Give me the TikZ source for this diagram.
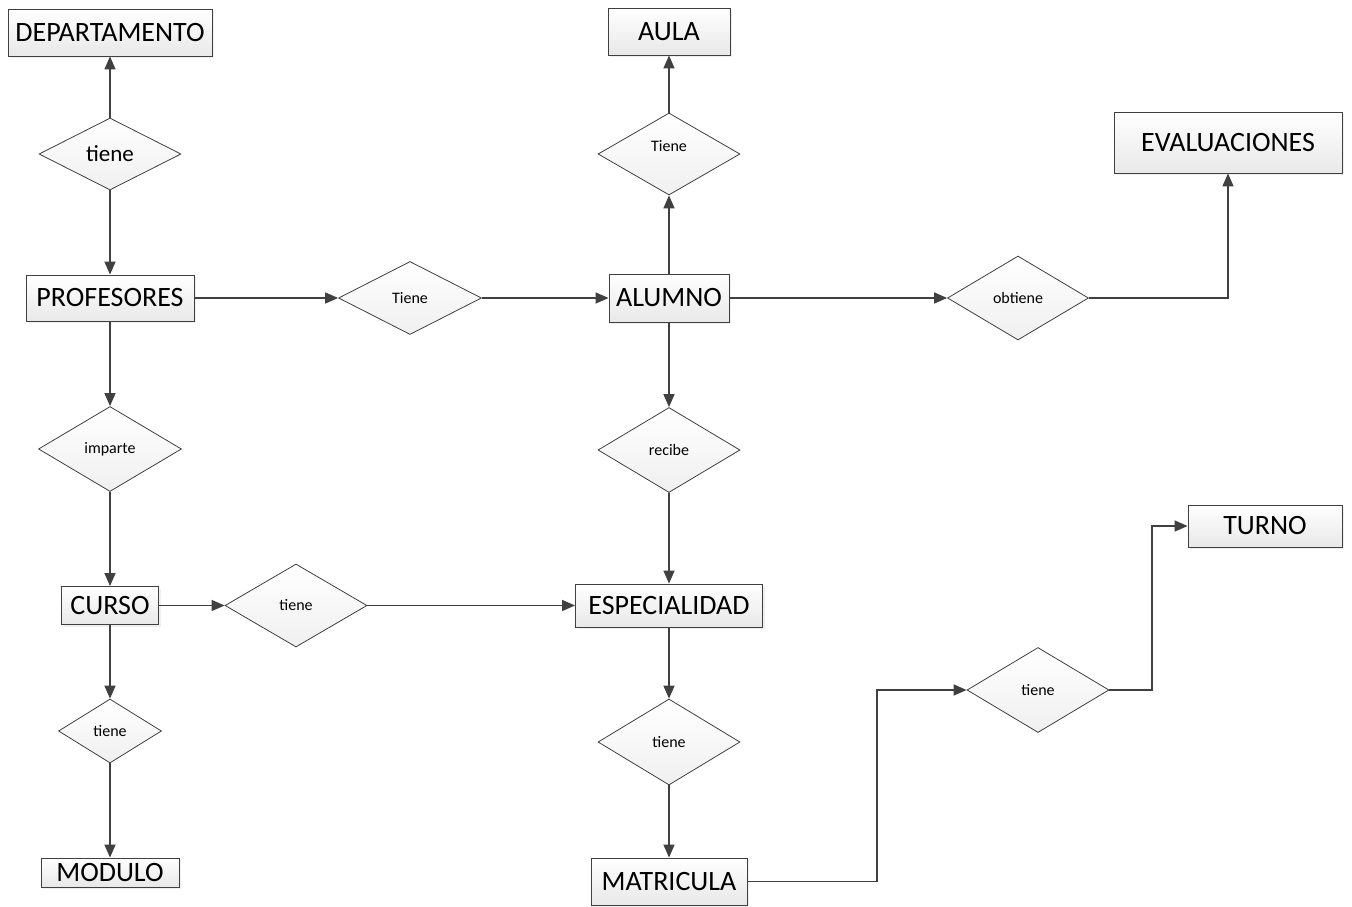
\documentclass[tikz,border=0pt]{standalone}
\usepackage{fontspec}
\setmainfont{Carlito}
\usetikzlibrary{shapes.geometric,arrows.meta,shadows}
\definecolor{ln}{HTML}{404040}
\tikzset{
  ent/.style={draw=ln, line width=0.9pt, top color=white, bottom color=black!9,
    drop shadow={shadow xshift=2pt, shadow yshift=-2pt, fill=black!12},
    inner sep=0pt, font=\fontsize{28}{32}\selectfont, text=black},
  rel/.style={diamond, draw=ln, line width=0.8pt, top color=white, bottom color=black!6,
    inner sep=0pt, font=\fontsize{16}{19}\selectfont, text=black},
  conn/.style={draw=ln, line width=1.5pt},
  arr/.style={conn, -{Triangle[length=13pt,width=11pt]}},
}
\begin{document}
\begin{tikzpicture}[x=1pt,y=-1pt]
\useasboundingbox[fill=white] (0,0) rectangle (1352,907);
% entities
\node[ent, minimum width=204, minimum height=47] (dep) at (110,32.5) {DEPARTAMENTO};
\node[ent, minimum width=122, minimum height=47] (aula) at (669,31.5) {AULA};
\node[ent, minimum width=228, minimum height=61] (eval) at (1228,142.5) {EVALUACIONES};
\node[ent, minimum width=168, minimum height=46] (prof) at (110,298) {PROFESORES};
\node[ent, minimum width=120, minimum height=48] (alum) at (669,298) {ALUMNO};
\node[ent, minimum width=97, minimum height=38] (curso) at (110,605.5) {CURSO};
\node[ent, minimum width=187, minimum height=43] (esp) at (669,605.5) {ESPECIALIDAD};
\node[ent, minimum width=138, minimum height=29] (mod) at (110,872.5) {MODULO};
\node[ent, minimum width=156, minimum height=47] (mat) at (669,881.5) {MATRICULA};
\node[ent, minimum width=154, minimum height=42] (turno) at (1265,526) {TURNO};
% relationships
\node[rel, minimum width=142, minimum height=72, font=\fontsize{23}{27}\selectfont] (d1) at (110,154) {tiene};
\node[rel, minimum width=142, minimum height=82] (d2) at (669,154) {};
\node[font=\fontsize{16}{19}\selectfont] (d2l) at ([yshift=8pt]d2.center) {Tiene};
\node[rel, minimum width=143, minimum height=73] (d3) at (410,298) {Tiene};
\node[rel, minimum width=141, minimum height=84] (d4) at (1018,298) {obtiene};
\node[rel, minimum width=143, minimum height=85] (d5) at (110,449) {imparte};
\node[rel, minimum width=142, minimum height=85] (d6) at (669,450) {recibe};
\node[rel, minimum width=142, minimum height=83] (d7) at (296,605.5) {tiene};
\node[rel, minimum width=103, minimum height=64] (d8) at (110,731) {tiene};
\node[rel, minimum width=142, minimum height=86] (d9) at (669,742) {tiene};
\node[rel, minimum width=142, minimum height=85] (d10) at (1038,690) {tiene};
\coordinate (c1) at (877,0);
\coordinate (c2) at (1152,0);
% connectors
\draw[arr] (d1.north) -- (dep.south);
\draw[arr] (d1.south) -- (prof.north);
\draw[arr] (prof.east) -- (d3.west);
\draw[arr] (d3.east) -- (alum.west);
\draw[arr] (alum.north) -- (d2.south);
\draw[arr] (d2.north) -- (aula.south);
\draw[arr] (alum.east) -- (d4.west);
\draw[arr] (d4.east) -| (eval.south);
\draw[arr] (alum.south) -- (d6.north);
\draw[arr] (d6.south) -- (esp.north);
\draw[arr] (prof.south) -- (d5.north);
\draw[arr] (d5.south) -- (curso.north);
\draw[arr] (curso.east) -- (d7.west);
\draw[arr] (d7.east) -- (esp.west);
\draw[arr] (curso.south) -- (d8.north);
\draw[arr] (d8.south) -- (mod.north);
\draw[arr] (esp.south) -- (d9.north);
\draw[arr] (d9.south) -- (mat.north);
\draw[arr] (mat.east) -| (c1 |- d10.west) -- (d10.west);
\draw[arr] (d10.east) -| (c2 |- turno.west) -- (turno.west);
\end{tikzpicture}
\end{document}
